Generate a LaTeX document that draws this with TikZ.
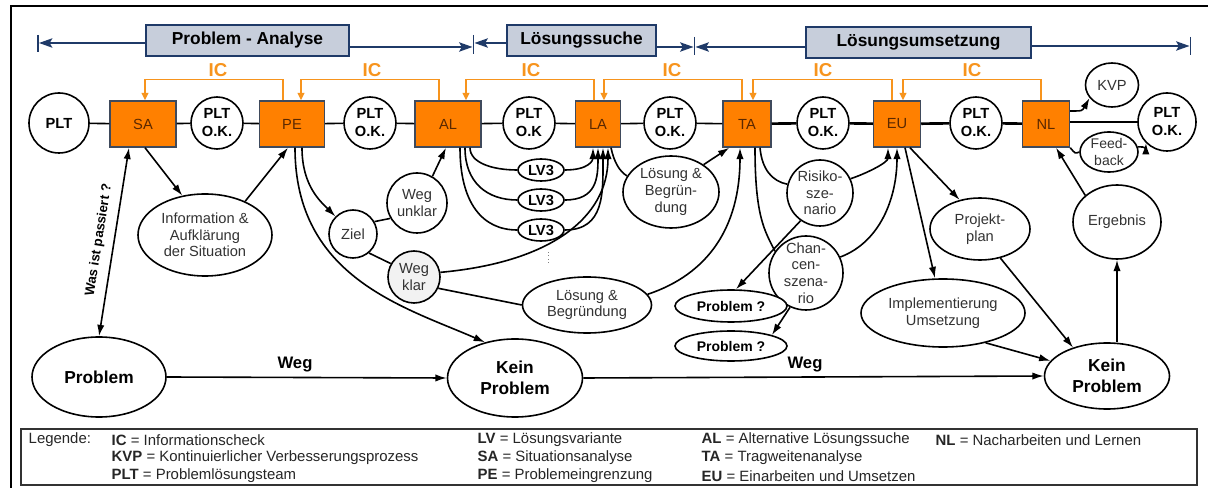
\documentclass[tikz,border=0pt]{standalone}
\usepackage{fontspec}
\setmainfont{Liberation Sans}
\usetikzlibrary{shapes.geometric,arrows.meta,calc}
\definecolor{boxorange}{HTML}{FF8000}
\definecolor{icorange}{HTML}{F7941D}
\definecolor{boxedge}{HTML}{3F4A5C}
\definecolor{boxtext}{HTML}{5A2800}
\definecolor{bannerfill}{HTML}{C7CEDB}
\definecolor{bannerline}{HTML}{1F3A68}
\tikzset{
 procbox/.style={draw=boxedge, line width=1.1pt, fill=boxorange, minimum width=#1*0.75pt, minimum height=46*0.75pt, inner sep=0pt, font=\fontsize{11}{13}\selectfont, text=boxtext},
 circ/.style={circle, draw, line width=1.2pt, fill=white, minimum size=#1*0.75pt, inner sep=0pt, align=center},
 okfont/.style={font=\bfseries\fontsize{11}{13.5}\selectfont},
 ell/.style 2 args={ellipse, draw, line width=1.2pt, fill=white, minimum width=#1*0.75pt, minimum height=#2*0.75pt, inner sep=0pt, align=center},
 txt/.style={font=\fontsize{11}{12.5}\selectfont, text=black!80, align=center},
 kptxt/.style={font=\bfseries\fontsize{13}{16}\selectfont, align=center},
 conn/.style={line width=1.2pt},
 arr/.style={conn, -{Latex[length=8.5pt,width=5.5pt]}},
 darr/.style={conn, {Latex[length=8.5pt,width=5.5pt]}-{Latex[length=8.5pt,width=5.5pt]}},
 icline/.style={draw=icorange, line width=1.1pt, -{Triangle[length=5.5pt,width=5pt]}},
 iclabel/.style={text=icorange, font=\bfseries\fontsize{14}{16}\selectfont},
 banner/.style={draw=bannerline, line width=1.3pt, fill=bannerfill, minimum height=31*0.75pt, inner sep=0pt, font=\bfseries\fontsize{13}{15}\selectfont},
 bline/.style={draw=bannerline, line width=1.3pt, -{Stealth[length=10pt,width=7pt,inset=2pt]}},
 barline/.style={draw=bannerline, line width=1.3pt},
 legtext/.style={anchor=west, font=\fontsize{11.2}{13}\selectfont, text=black!85},
}
\begin{document}
\begin{tikzpicture}[x=0.75pt,y=-0.75pt]
\useasboundingbox (0,0) rectangle (1208,488);
\fill[white] (0,0) rectangle (1208,488);
% outer frame
\draw[line width=1.8pt] (11,490) -- (11,6) -- (1210,6);

% banner
\node[banner, minimum width=203*0.75pt] (pa) at (247.5,40.5) {Problem - Analyse};
\node[banner, minimum width=149*0.75pt] (ls) at (581.5,40.5) {Lösungssuche};
\node[banner, minimum width=225*0.75pt] (lu) at (918.5,42.5) {Lösungsumsetzung};
\coordinate (m0) at (39,43);
\coordinate (m1a) at (472.5,47);
\coordinate (m1b) at (474.5,43);
\coordinate (m2a) at (693.5,47);
\coordinate (m2b) at (695.5,47);
\coordinate (m3) at (1189.5,46);
\draw[barline] (38,35) -- (38,52);
\draw[barline] (473.5,35) -- (473.5,54);
\draw[barline] (694.5,37) -- (694.5,55);
\draw[barline] (1190.5,37) -- (1190.5,55);
\draw[bline] (pa.west |- m0) -- (m0);
\draw[bline] (pa.east |- m1a) -- (m1a);
\draw[bline] (ls.west |- m1b) -- (m1b);
\draw[bline] (ls.east |- m2a) -- (m2a);
\draw[bline] (lu.west |- m2b) -- (m2b);
\draw[bline] (lu.east |- m3) -- (m3);

% main row
\node[circ=60, okfont] (plt0) at (59,123) {PLT};
\node[procbox=66] (sa) at (143,124) {SA};
\node[circ=52, okfont] (ok1) at (217,123) {PLT\\O.K.};
\node[procbox=65] (pe) at (292,124) {PE};
\node[circ=52, okfont] (ok2) at (370,123) {PLT\\O.K.};
\node[procbox=66] (al) at (448,124) {AL};
\node[circ=52, okfont] (ok3) at (529,123) {PLT\\O.K};
\node[procbox=45] (la) at (598,124) {LA};
\node[circ=52, okfont] (ok4) at (670,123) {PLT\\O.K.};
\node[procbox=48] (ta) at (747,124) {TA};
\node[circ=52, okfont] (ok5) at (823,123) {PLT\\O.K.};
\node[procbox=47] (eu) at (897,124) {EU};
\node[circ=52, okfont] (ok6) at (976,123) {PLT\\O.K.};
\node[procbox=47] (nl) at (1046,124) {NL};
\node[circ=58, okfont] (okf) at (1167,122) {PLT\\O.K.};
\node[ell={53}{44}, txt] (kvp) at (1112,85) {KVP};
\node[ell={58}{40}] (fb) at (1109,152) {};
\node[txt, font=\fontsize{10.5}{12.5}\selectfont] (fbt) at (fb) {Feed-\\back};
\node[ell={88}{74}, txt] (erg) at (1117,222) {Ergebnis};

\draw[conn] (plt0) -- (sa) -- (ok1) -- (pe) -- (ok2) -- (al) -- (ok3) -- (la) -- (ok4) -- (ta);
\draw[line width=2pt] (ta) -- (ok5) -- (eu) -- (ok6) -- (nl);
\draw[conn] (nl.east |- okf) -- (okf);

% IC brackets
\draw[icline] ($(pe.north)+(-9,0)$) -- ++(0,-21) -| ($(sa.north)+(2,0)$);
\draw[icline] ($(al.north)+(-9,0)$) -- ++(0,-21) -| ($(pe.north)+(9,0)$);
\draw[icline] ($(la.north)+(-4,0)$) -- ++(0,-21) -| ($(al.north)+(18,0)$);
\draw[icline] ($(ta.north)+(-5,0)$) -- ++(0,-21) -| ($(la.north)+(6,0)$);
\draw[icline] ($(eu.north)+(-5,0)$) -- ++(0,-21) -| ($(ta.north)+(6,0)$);
\draw[icline] ($(nl.north)+(-5,0)$) -- ++(0,-21) -| ($(eu.north)+(6,0)$);
\node[iclabel] (ic1) at (218,70) {IC};
\node[iclabel] (ic2) at (372,70) {IC};
\node[iclabel] (ic3) at (531,70) {IC};
\node[iclabel] (ic4) at (672,70) {IC};
\node[iclabel] (ic5) at (823,70) {IC};
\node[iclabel] (ic6) at (972,70) {IC};

% lower nodes
\node[ell={134}{82}, txt] (info) at (205,235) {Information \&\\Aufklärung\\der Situation};
\node[circ=48, txt] (ziel) at (353,234) {Ziel};
\node[circ=60, txt] (wu) at (417,203) {Weg\\unklar};
\node[circ=52, txt, fill=black!5] (wk) at (414,277) {Weg\\klar};
\node[ell={46}{22}, font=\bfseries\fontsize{11}{13}\selectfont] (lv1) at (541,170) {LV3};
\node[ell={46}{22}, font=\bfseries\fontsize{11}{13}\selectfont] (lv2) at (541,200) {LV3};
\node[ell={46}{22}, font=\bfseries\fontsize{11}{13}\selectfont] (lv3) at (541,230) {LV3};
\node[ell={96}{72}, txt] (lb1) at (671,192) {Lösung \&\\Begrün-\\dung};
\node[ell={129}{56}, txt] (lb2) at (587,305) {Lösung \&\\Begründung};
\node[circ=66] (ris) at (820,193) {};
\node[txt] (rist) at (ris) {Risiko-\\sze-\\nario};
\node[circ=74] (cha) at (806,273) {};
\node[txt] (chat) at (cha) {Chan-\\cen-\\szena-\\rio};
\node[ell={112}{32}, font=\bfseries\fontsize{10.5}{12}\selectfont] (pq1) at (731,306) {Problem ?};
\node[ell={112}{30}, font=\bfseries\fontsize{10.5}{12}\selectfont] (pq2) at (731,346) {Problem ?};
\node[ell={100}{62}, txt] (proj) at (980,229) {Projekt-\\plan};
\node[ell={164}{68}, txt] (impl) at (943,313) {Implementierung\\Umsetzung};
\node[ell={134}{80}, kptxt] (prob) at (99,377) {Problem};
\node[ell={135}{78}, kptxt] (kp1) at (515,378) {Kein\\Problem};
\node[ell={125}{66}, kptxt] (kp2) at (1107,376) {Kein\\Problem};
\node[font=\bfseries\fontsize{12.5}{14}\selectfont] (weg1) at (295,365) {Weg};
\node[font=\bfseries\fontsize{12.5}{14}\selectfont] (weg2) at (805,365) {Weg};
\node[rotate=81, font=\bfseries\fontsize{10}{12}\selectfont] (was) at (99,240) {Was ist passiert ?};

% connectors
\draw[darr] (prob.north) -- ($(sa.south)+(-14,0)$);
\draw[arr] ($(sa.south)+(2,0)$) -- (info.120);
\draw[arr] (info.40) -- ($(pe.south)+(-4,0)$);
\draw[arr] ($(pe.south)+(10,0)$) .. controls +(0,38) and +(-15,-15) .. (ziel.135);
\draw[arr] ($(pe.south)+(3,0)$) .. controls +(0,130) and +(-80,-35) .. (kp1.130);
\draw[conn] (ziel.30) -- (wu.210);
\draw[conn] (ziel.-50) -- (wk.150);
\draw[arr] (wu.60) -- ($(al.south)+(-2,0)$);
\draw[conn] ($(al.south)+(22,0)$) .. controls +(0,15) and +(-25,0) .. (lv1.west);
\draw[conn] ($(al.south)+(17,0)$) .. controls +(0,35) and +(-30,0) .. (lv2.west);
\draw[conn] ($(al.south)+(12,0)$) .. controls +(0,55) and +(-35,0) .. (lv3.west);
\draw[arr] (lv1.east) .. controls +(25,0) and +(0,12) .. ($(la.south)+(-5,0)$);
\draw[arr] (lv2.east) .. controls +(32,0) and +(0,30) .. ($(la.south)+(0,0)$);
\draw[arr] (lv3.east) .. controls +(40,0) and +(0,45) .. ($(la.south)+(5,0)$);
\draw[arr] (wk.10) .. controls +(110,-10) and +(0,70) .. ($(la.south)+(10,0)$);
\draw[dotted, line width=0.6pt, black!50] (548,252) -- (548,264);
\draw[conn] (wk.-25) .. controls +(40,8) .. (lb2.west);
\draw[arr] (lb2.10) .. controls +(60,-20) and +(0,80) .. ($(ta.south)+(-7,0)$);
\draw[conn] ($(la.south)+(13,0)$) .. controls +(3,14) and +(-8,-5) .. (lb1.160);
\draw[arr] (lb1.40) -- ($(ta.south west)+(7,0)$);
\draw[conn] ($(ta.south)+(13,0)$) .. controls +(2,22) and +(-15,-3) .. (ris.165);
\draw[conn] ($(ta.south)+(8,0)$) .. controls +(0,70) and +(-10,-20) .. (cha.145);
\draw[arr] (ris.25) .. controls +(15,-5) and +(0,15) .. ($(eu.south)+(-9,0)$);
\draw[arr] (cha.25) .. controls +(40,-15) and +(0,50) .. (eu.south);
\draw[arr] (ris.-125) -- ($(pq1.north)+(5,0)$);
\draw[arr] (cha.-115) -- (pq2.15);
\draw[arr] ($(eu.south)+(13,0)$) -- (proj.125);
\draw[arr] ($(eu.south)+(8,0)$) -- ($(impl.north)+(-8,0)$);
\draw[arr] (proj.-55) -- (kp2.140);
\draw[arr] (impl.-35) -- (kp2.165);
\draw[arr] (kp2.north -| erg.south) -- (erg.south);
\draw[arr] (erg.140) -- ($(nl.south)+(10,0)$);
\draw[arr] ($(nl.east)+(0,-13)$) .. controls +(12,0) .. (kvp.-150);
\draw[conn] (nl.south east) .. controls +(5,6) .. (fb.west);
\draw[arr] (fb.10) .. controls +(8,0) .. (okf.-135);
\draw[arr] (prob.east) -- (kp1.west);
\draw[arr] (kp1.east) -- (kp2.west);

% legend
\node[draw=black!80, line width=0.9pt, minimum width=1176*0.75pt, minimum height=56*0.75pt, inner sep=0pt] (leg) at (609,457) {};
\node[legtext] (lg0) at (24,440) {Legende:};
\node[legtext] (lg1) at (107,440) {\textbf{IC} = Informationscheck};
\node[legtext] (lg2) at (107,458) {\textbf{KVP} = Kontinuierlicher Verbesserungsprozess};
\node[legtext] (lg3) at (107,476) {\textbf{PLT} = Problemlösungsteam};
\node[legtext] (lg4) at (473,440) {\textbf{LV} = Lösungsvariante};
\node[legtext] (lg5) at (473,458) {\textbf{SA} = Situationsanalyse};
\node[legtext] (lg6) at (473,476) {\textbf{PE} = Problemeingrenzung};
\node[legtext] (lg7) at (697,440) {\textbf{AL} = Alternative Lösungssuche};
\node[legtext] (lg8) at (697,458) {\textbf{TA} = Tragweitenanalyse};
\node[legtext] (lg9) at (697,476) {\textbf{EU} = Einarbeiten und Umsetzen};
\node[legtext] (lg10) at (931,440) {\textbf{NL} = Nacharbeiten und Lernen};
\end{tikzpicture}
\end{document}
